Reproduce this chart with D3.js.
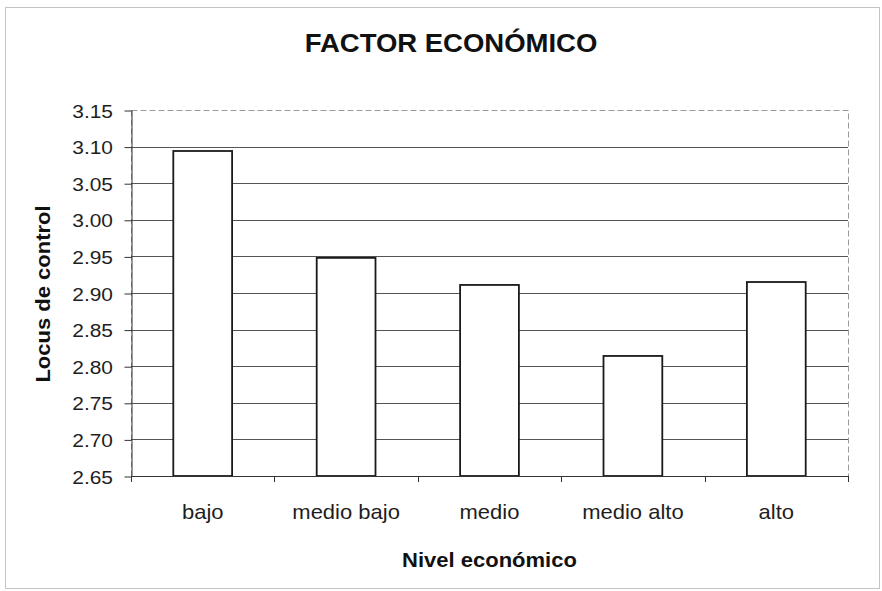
<!DOCTYPE html>
<html>
<head>
<meta charset="utf-8">
<script src="https://cdn.jsdelivr.net/npm/d3@7"></script>
<style>
  html, body { margin: 0; padding: 0; background: #fff; }
  svg { display: block; font-family: "Liberation Sans", Arial, sans-serif; }
</style>
</head>
<body>
<svg id="chart" width="882" height="591"></svg>
<script>
// Data: locus of control by economic level
const categories = ["bajo", "medio bajo", "medio", "medio alto", "alto"];
const values = [3.094, 2.948, 2.911, 2.814, 2.915];
const yTicks = [2.65, 2.70, 2.75, 2.80, 2.85, 2.90, 2.95, 3.00, 3.05, 3.10, 3.15];
const title = "FACTOR ECONÓMICO";
const xTitle = "Nivel económico";
const yTitle = "Locus de control";

const W = 882, H = 591;
const plot = { left: 131, right: 848, top: 110, bottom: 476 };
const stretch = 1.1; // glyphs run slightly wide along the baseline

const svg = d3.select("#chart");

// outer chart frame
svg.append("rect")
  .attr("x", 5.5).attr("y", 7.5)
  .attr("width", 874).attr("height", 581)
  .attr("fill", "none")
  .attr("stroke", "#c4c4c4")
  .attr("stroke-width", 1);

const x = d3.scaleBand()
  .domain(categories)
  .range([plot.left, plot.right])
  .paddingInner(0.59)
  .paddingOuter(0.295);

const y = d3.scaleLinear()
  .domain([2.65, 3.15])
  .range([plot.bottom, plot.top]);

// text helper: stretched along its baseline
function label(g, tx, ty, rot, str, opts) {
  const grp = g.append("g")
    .attr("transform", `translate(${tx},${ty}) rotate(${rot}) scale(${stretch},1)`);
  grp.append("text")
    .attr("text-anchor", opts.anchor || "middle")
    .attr("font-size", opts.size)
    .attr("font-weight", opts.weight || "normal")
    .attr("fill", opts.fill || "#1e1e1e")
    .text(str);
  return grp;
}

// plot area border (dashed)
svg.append("rect")
  .attr("x", plot.left + 0.5).attr("y", y(3.15) + 0.5)
  .attr("width", plot.right - plot.left)
  .attr("height", plot.bottom - y(3.15))
  .attr("fill", "none")
  .attr("stroke", "#9a9a9a")
  .attr("stroke-dasharray", "6,3")
  .attr("stroke-width", 1);

// horizontal gridlines
svg.append("g")
  .selectAll("line")
  .data(yTicks.filter(t => t > 2.65 && t < 3.15))
  .join("line")
  .attr("x1", plot.left).attr("x2", plot.right)
  .attr("y1", d => Math.round(y(d)) + 0.5)
  .attr("y2", d => Math.round(y(d)) + 0.5)
  .attr("stroke", "#555")
  .attr("stroke-width", 1);

// bars
svg.append("g")
  .selectAll("rect")
  .data(categories.map((c, i) => ({ c, v: values[i] })))
  .join("rect")
  .attr("x", d => x(d.c))
  .attr("y", d => y(d.v))
  .attr("width", x.bandwidth())
  .attr("height", d => y(2.65) - y(d.v))
  .attr("fill", "#fff")
  .attr("stroke", "#1a1a1a")
  .attr("stroke-width", 1.8);

// y axis
const yAxis = d3.axisLeft(y)
  .tickValues(yTicks)
  .tickSize(7)
  .tickSizeOuter(0)
  .tickFormat(() => "");
const yg = svg.append("g")
  .attr("transform", `translate(${plot.left + 0.5},0)`)
  .call(yAxis);
yg.selectAll("path, line").attr("stroke", "#333").attr("stroke-width", 1);
yg.selectAll(".tick line").attr("transform", "translate(0,0.5)");

// y tick labels
const yl = svg.append("g");
yTicks.forEach(t => {
  label(yl, 113, y(t) + 7.5, 0, d3.format(".2f")(t), { anchor: "end", size: 19 });
});

// x axis line with boundary ticks
const xg = svg.append("g");
xg.append("line")
  .attr("x1", plot.left).attr("x2", plot.right + 1)
  .attr("y1", plot.bottom + 0.5).attr("y2", plot.bottom + 0.5)
  .attr("stroke", "#333").attr("stroke-width", 1);
const step = x.step();
const bounds = d3.range(categories.length + 1).map(i => plot.left + i * step);
xg.selectAll("line.b")
  .data(bounds)
  .join("line")
  .attr("class", "b")
  .attr("x1", d => Math.round(d) + 0.5).attr("x2", d => Math.round(d) + 0.5)
  .attr("y1", plot.bottom).attr("y2", plot.bottom + 6)
  .attr("stroke", "#333").attr("stroke-width", 1);

// category labels
categories.forEach(c => {
  label(xg, x(c) + x.bandwidth() / 2, 519, 0, c, { size: 20 });
});

// titles
label(svg, 451, 52, 0, title, { size: 25, weight: "bold", fill: "#111" });
label(svg, (plot.left + plot.right) / 2, 567, 0, xTitle, { size: 20, weight: "bold", fill: "#111" });
label(svg, 50, 294, -90, yTitle, { size: 20, weight: "bold", fill: "#111" });
</script>
</body>
</html>
